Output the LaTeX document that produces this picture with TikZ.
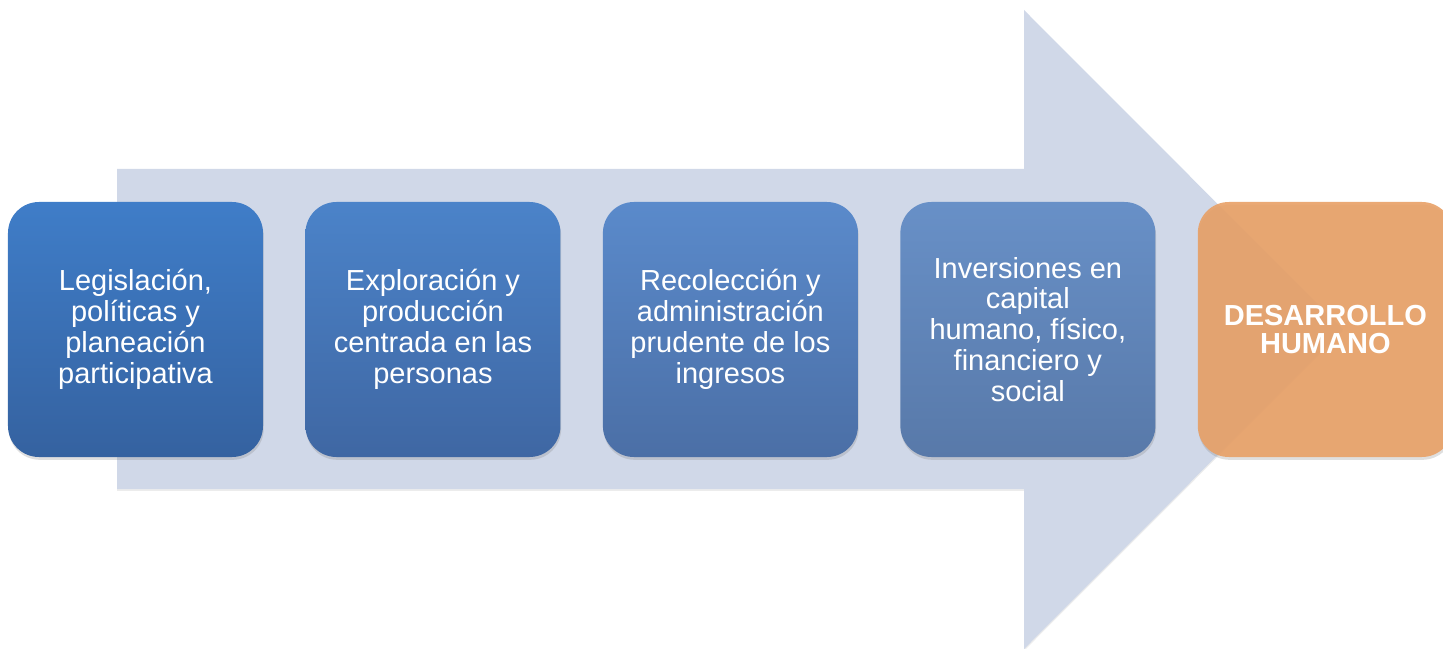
\documentclass[tikz,border=0pt]{standalone}
\usepackage{fontspec}
\setmainfont{Liberation Sans}
\usetikzlibrary{positioning,shadows}
\definecolor{flecha}{HTML}{D0D8E8}
\definecolor{azulA}{HTML}{3F7DC8}
\definecolor{azulAb}{HTML}{3562A0}
\definecolor{azulB}{HTML}{4B83C9}
\definecolor{azulBb}{HTML}{3F67A3}
\definecolor{azulC}{HTML}{5A8ACB}
\definecolor{azulCb}{HTML}{4B6FA6}
\definecolor{azulD}{HTML}{6890C7}
\definecolor{azulDb}{HTML}{5879A9}
\definecolor{naranja}{HTML}{E8A066}
\tikzset{
  paso/.style={rounded corners=0.62cm, minimum width=5.1cm, minimum height=5.1cm,
    align=center, text=white, font=\fontsize{16.5}{17.6}\selectfont,
    drop shadow={shadow xshift=0.4pt, shadow yshift=-1.6pt, opacity=.25}},
}
\begin{document}
\begin{tikzpicture}[x=0.2mm,y=-0.2mm,node distance=0.835cm]
    \useasboundingbox (0,0) rectangle (1443,649);
    % flecha de fondo
    \fill[flecha, drop shadow={shadow xshift=0pt, shadow yshift=-1pt, opacity=.15}]
      (117,169) -- (1024,169) -- (1024,10) -- (1343,329.5) -- (1024,649) -- (1024,489) -- (117,489) -- cycle;
    \node[paso, top color=azulA, bottom color=azulAb] (p1) at (135.5,329.5)
      {Legislación,\\políticas y\\planeación\\participativa};
    \node[paso, top color=azulB, bottom color=azulBb, right=of p1] (p2)
      {Exploración y\\producción\\centrada en las\\personas};
    \node[paso, top color=azulC, bottom color=azulCb, right=of p2] (p3)
      {Recolección y\\administración\\prudente de los\\ingresos};
    \node[paso, top color=azulD, bottom color=azulDb, right=of p3] (p4)
      {Inversiones en\\capital\\humano, físico,\\financiero y\\social};
    \node[paso, fill=naranja, fill opacity=.9, text opacity=1,
      font=\fontsize{16.5}{15.4}\selectfont\bfseries, right=of p4] (p5)
      {DESARROLLO\\HUMANO};
  \end{tikzpicture}
\end{document}
